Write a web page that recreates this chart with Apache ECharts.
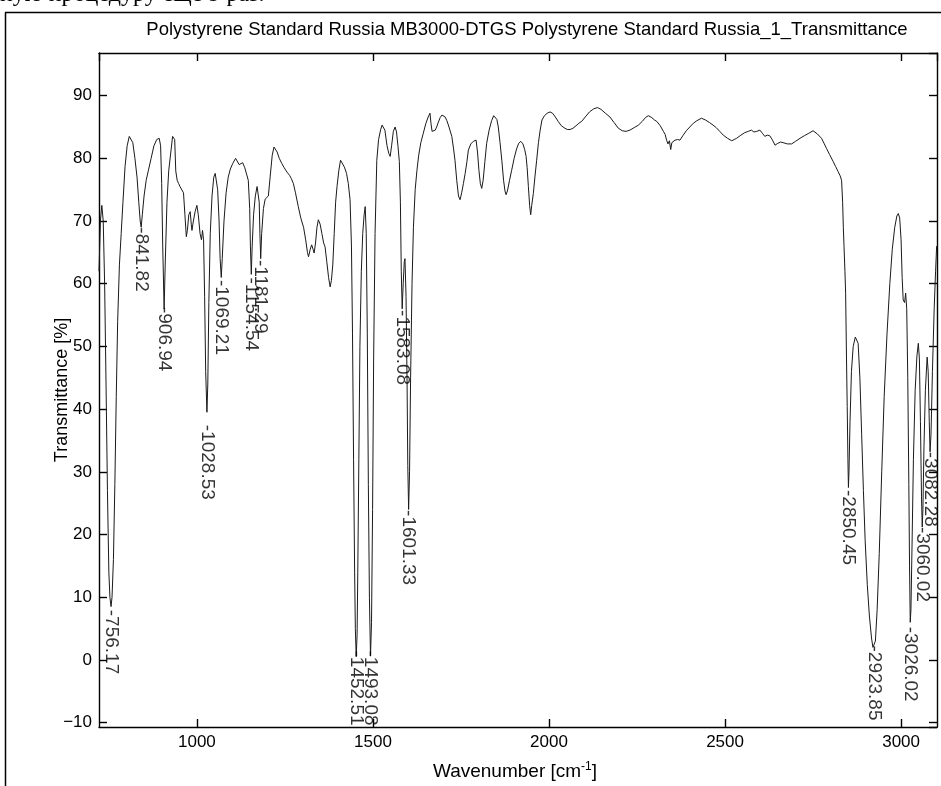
<!DOCTYPE html>
<html>
<head>
<meta charset="utf-8">
<script src="https://cdn.jsdelivr.net/npm/echarts@6/dist/echarts.min.js"></script>
<style>
html,body{margin:0;padding:0;background:#fff;}
#c{width:941px;height:786px;}
</style>
</head>
<body>
<div id="c"></div>
<script>
// Spectrum: wavenumber (cm-1) and transmittance (%)
const wavenumbers = [
722,726,730,734,738,742,746,750,753,756.17,759,763,767,771,775,780,785,790,796,802,808,812,818,824,830,835,839,841.82,845,850,
856,862,870,878,886,893,897,900,903,906.94,910,915,920,926,931,934,937,940,944,948,952,957,962,966,970,973,977,981,984,986,
990,995,1000,1004,1009,1013,1016,1019,1022,1025,1028.53,1031,1034,1038,1043,1048,1052,1055,1059,1063,1066,1069.21,1072,1077,1083,1089,1095,1102,1110,1115,
1120,1125,1130,1136,1141,1146,1150,1152,1154.54,1157,1161,1166,1171,1174,1177,1179,1181.29,1184,1189,1194,1199,1203,1208,1214,1219,1223,1228,1234,1241,1248,
1256,1263,1268,1274,1280,1288,1295,1303,1309,1314,1317,1322,1326,1330,1333,1337,1341,1345,1350,1355,1360,1364,1369,1374,1378.5,1382,1386,1390,1394,1398,
1403,1408,1413,1419,1425,1430,1435,1439,1442,1445,1448,1450,1452.51,1455,1457,1460,1463,1467,1471,1475,1478,1481,1484,1487,1490,1493.08,1496,1499,1502,1506,
1511,1516,1522,1526,1530,1534,1540,1545,1549,1553,1558,1563,1567,1571,1575,1578,1580.5,1583.08,1586,1589,1591,1594,1597,1599,1601.33,1604,1607,1611,1615,1620,
1625,1630,1636,1643,1650,1657,1660,1662,1665,1668,1672,1677,1681,1686,1691,1696,1700,1705,1710,1716,1724,1729,1733,1738,1743,1747.5,1752,1757,1762,1767,
1771,1778,1785,1793,1797,1801,1805,1809,1813,1818,1823,1830,1837,1843,1847,1852,1856,1861,1866,1871,1875,1878,1882,1888,1894,1901,1908,1914,1920,1926,
1931,1935,1938,1941.5,1945,1948,1951,1955.6,1960,1965,1970,1975,1980,1987,1995,2003,2010,2018,2026,2035,2045,2052,2060,2068,2077,2085,2093,2103,2115,2127,
2138,2148,2160,2173,2185,2197,2208,2219,2230,2242,2254,2265,2274,2282,2292,2300,2306,2316,2325,2330,2334,2338,2342,2345.7,2349,2354,2358,2365,2372,2380,
2390,2400,2410,2420,2433,2445,2456,2466,2475,2485,2495,2507,2519,2526,2533,2545,2556,2566,2575,2582,2590,2595,2599,2606,2613,2620,2627,2634,2642,2650,
2658,2665,2677,2689,2700,2713,2725,2738,2750,2762,2774,2782,2788,2797,2807,2814,2821,2827,2831,2834,2836,2838,2840.5,2842.5,2845,2847,2849,2850.45,2852,2855,
2859,2864,2870,2874,2878,2883,2888,2893,2898,2904,2910,2916,2920,2923.85,2927,2932,2938,2945,2952,2960,2968,2975,2982,2988,2992,2996,3000,3003,3006,3010,
3013,3016,3019,3022,3024,3026.02,3028,3031,3035,3040,3045,3049,3052,3055,3058,3060.02,3062,3065,3069,3074,3077,3080,3082.28,3085,3089,3094,3098,3101
];
const transmittance = [
62,70,72.5,70,60,44,27,14,10,8.5,10,16,28,42,54,63,68,73,78.7,82,83.5,83.8,82.5,80,77,73,70,69,71,74,
76.5,78,80,82,83,83.2,82,76,66,56,63,73,78,81,83.5,83.8,83,78,76.5,76,75.5,75.3,74.5,71,67.5,68.5,71,71.5,69.5,68.5,
70,71.5,72.5,71,68,67,68.5,67,58,46,39.5,44,57,68,74,77,77.6,77.5,75,70,64,61,64,70,74.5,77,78.3,79.2,80,79.8,
79,79.3,79.3,78.5,77.5,76.5,72,66,61.5,66,71,74,75.5,75.3,73,68,64,68,72,73.5,73.2,74,77,80.5,81.8,81.9,81,80,79.2,78.5,
77.8,77.3,76.8,76,74.5,72.3,70.5,69,67,65,64.3,65.5,66.2,65.5,64.9,66.5,69,70.2,69.5,68,66.5,65.9,63.5,61,59.5,60.5,63,68,73,75.5,
78,79.7,79.5,78.6,77.6,76,73.4,66,52,32,14,5,0.5,4,14,32,50,62,68,71,72.3,68,52,28,10,0.6,6,24,48,68,
79.7,83,84.6,85.3,85.6,84.5,82,80.8,80.3,82,84.3,85,84.2,82,79.5,73,62,56,60,63.5,64,58,44,31,24,30,45,60,69,75,
78.1,80.5,82.5,84,85.5,86.6,86.3,87.2,85.5,84.3,84,84.5,85,85.8,86.5,86.9,87,86.6,86,85,83.5,81.5,79.7,76.5,74,73.4,74.5,76,77.6,79.5,
81.3,82.3,82.7,82.9,81,78.1,76,75.2,76.5,79.5,82.4,84.5,86,86.8,86.9,86.2,85,82.5,79.7,76.5,74.8,74.2,74.8,76.5,78.1,80,81.5,82.4,82.7,82.3,
81.4,80.3,78.5,75.5,72.5,71,72.5,74.4,77,79.7,82.5,84.5,86.1,86.8,87.2,87.4,87.2,86.6,85.9,85.2,84.8,84.6,84.6,84.8,85.2,85.6,85.9,86.6,87.4,87.9,
88.1,87.8,87.2,86.6,85.7,84.8,84.4,84.3,84.5,84.9,85.3,85.9,86.5,86.8,86.5,86.1,85.9,85.2,84.3,83.8,82.9,82.3,82.8,81.4,82.5,82.3,82.9,83,82.9,83.6,
84.4,85,85.6,86,86.4,86.1,85.7,85.3,84.9,84.3,83.7,83.2,82.8,83,83.2,83.7,84.1,84.3,84.5,84.2,84.3,84.6,84.5,84,83.5,83.7,83.6,83,82.1,82.4,
82.6,82.5,82.3,82.3,82.7,83.2,83.6,84,84.4,83.9,83.2,82.3,81.6,80.6,79.5,78.7,77.9,77.2,76.5,73,69,65.9,62,58.5,48,40.4,32,27.5,30,38,
46,50,51.5,51.8,50.5,45,36,27,19,12,7,3.5,2,1.8,3,8,17,30,42,52,60,65.5,69,70.8,71.2,70.5,67,61,57.4,57,
58.5,56,45,28,15,6,8,18,32,43,48.5,50.5,48,38,26,21.2,24,34,43,48.3,46,38,33.2,36,46,56,62,66
];
// Peak annotations: wavenumber and level where the label's dash starts
const peakWavenumbers = [756.17,841.82,906.94,1028.53,1069.21,1154.54,1181.29,1452.51,1493.08,1583.08,1601.33,2850.45,2923.85,3026.02,3060.02,3082.28];
const peakLabelLevels = [8,69,56.3,37.5,60.6,61,63.8,1.5,1.5,55.8,23.9,27.1,2.3,5.3,21.2,33.2];

const titleText = 'Polystyrene Standard Russia MB3000-DTGS Polystyrene Standard Russia_1_Transmittance';
const pageText = 'ную процедуру еще 9 раз.';
const xNameMain = 'Wavenumber [cm';
const xNameSup = '-1';
const yName = 'Transmittance [%]';

const FONT = '"Liberation Sans", Arial, sans-serif';
const spectrum = wavenumbers.map((w, i) => [w, transmittance[i]]);
const peaks = peakWavenumbers.map((w, i) => [w, peakLabelLevels[i]]);
const tickFmt = v => (v < 0 ? '\u2212' + Math.abs(v) : String(v));

const chart = echarts.init(document.getElementById('c'), null, {renderer: 'canvas'});
const lineStyle = {color: '#000', width: 1.4};
function axis(extra) {
  return Object.assign({
    type: 'value',
    axisLine: {show: true, onZero: false, lineStyle: lineStyle},
    axisTick: {show: true, inside: true, length: 8, lineStyle: lineStyle},
    splitLine: {show: false},
    axisLabel: {show: false}
  }, extra);
}
const labelStyle = {show: true, color: '#000', fontSize: 17, fontFamily: FONT, showMinLabel: false, showMaxLabel: false, formatter: tickFmt};
chart.setOption({
  animation: false,
  backgroundColor: '#fff',
  grid: {left: 99, right: 4, top: 53, bottom: 59, containLabel: false},
  xAxis: [
    axis({min: 722, max: 3102, minInterval: 500, maxInterval: 500, position: 'bottom', axisLabel: Object.assign({}, labelStyle, {margin: 7})}),
    axis({min: 722, max: 3102, minInterval: 500, maxInterval: 500, position: 'top'})
  ],
  yAxis: [
    axis({min: -10.7, max: 96.8, minInterval: 10, maxInterval: 10, position: 'left', axisLabel: Object.assign({}, labelStyle, {margin: 7})}),
    axis({min: -10.7, max: 96.8, minInterval: 10, maxInterval: 10, position: 'right'})
  ],
  series: [
    {
      type: 'line', data: spectrum, showSymbol: false, symbol: 'none', smooth: false,
      lineStyle: {color: '#1a1a1a', width: 1}, xAxisIndex: 0, yAxisIndex: 0, z: 2
    },
    {
      type: 'scatter', data: peaks, symbolSize: 0, xAxisIndex: 0, yAxisIndex: 0, z: 3,
      label: {
        show: true, position: [0, 0], align: 'left', verticalAlign: 'middle', rotate: -90,
        color: '#000', fontSize: 19, fontFamily: FONT,
        formatter: p => '-' + p.value[0].toFixed(2)
      }
    }
  ],
  graphic: [
    {type: 'line', shape: {x1: 5.5, y1: 12.5, x2: 5.5, y2: 786}, style: {stroke: '#000', lineWidth: 1.5}},
    {type: 'line', shape: {x1: 5, y1: 12.5, x2: 941, y2: 12.5}, style: {stroke: '#000', lineWidth: 1.5}},
    {type: 'text', x: 0, y: 7, style: {text: pageText, font: '24px "Liberation Serif", serif', fill: '#000', textAlign: 'left', textVerticalAlign: 'bottom'}},
    {type: 'text', x: 527, y: 30, style: {text: titleText, font: '18.5px ' + FONT, fill: '#000', textAlign: 'center', textVerticalAlign: 'middle'}},
    {type: 'text', x: 62, y: 390, rotation: Math.PI / 2, style: {text: yName, font: '18px ' + FONT, fill: '#000', textAlign: 'center', textVerticalAlign: 'middle'}},
    {type: 'text', x: 515, y: 772, style: {
      text: '{a|' + xNameMain + '}{s|' + xNameSup + '}{a|]}', textAlign: 'center', textVerticalAlign: 'middle',
      rich: {a: {fontSize: 19, fontFamily: FONT, fill: '#000'}, s: {fontSize: 12, fontFamily: FONT, fill: '#000', padding: [0, 0, 10, 0]}}
    }}
  ]
});
</script>
</body>
</html>
